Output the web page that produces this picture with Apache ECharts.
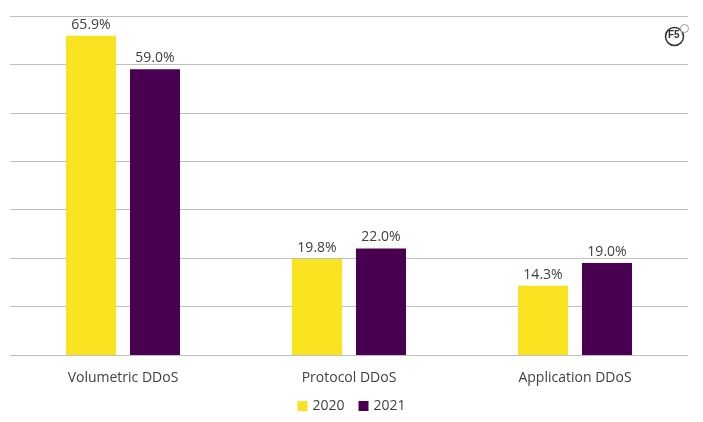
<!DOCTYPE html>
<html style="height: 100%">
<head>
<meta charset="utf-8">
<script src="https://cdn.jsdelivr.net/npm/echarts@6/dist/echarts.min.js"></script>
</head>
<body style="height: 100%; margin: 0; background: #fff">
<div id="container" style="width: 703px; height: 422px"></div>
<script type="text/javascript">
    var categories = ["Volumetric DDoS", "Protocol DDoS", "Application DDoS"];
    var values2020 = [65.9, 19.8, 14.3];
    var values2021 = [59.0, 22.0, 19.0];

    var myChart = echarts.init(document.getElementById("container"));
    var labelStyle = {
        show: true,
        position: "top",
        distance: 4,
        color: "#404040",
        fontSize: 14,
        fontFamily: "Open Sans",
        formatter: function (p) { return p.value.toFixed(1) + "%"; }
    };

    var option = {
        animation: false,
        grid: { left: 10, right: 15, top: 16, bottom: 67 },
        legend: {
            bottom: 4,
            itemWidth: 10,
            itemHeight: 10,
            itemGap: 14,
            icon: "rect",
            textStyle: { color: "#404040", fontSize: 14, fontFamily: "Open Sans" }
        },
        xAxis: {
            type: "category",
            data: categories,
            axisTick: { show: false },
            axisLine: { lineStyle: { color: "#bfbfbf" } },
            axisLabel: { color: "#404040", fontSize: 14, fontFamily: "Open Sans", margin: 16 }
        },
        yAxis: {
            type: "value",
            min: 0,
            max: 70,
            interval: 10,
            axisLabel: { show: false },
            splitLine: { lineStyle: { color: "#bfbfbf" } }
        },
        graphic: [{
            type: "group",
            right: 14,
            top: 24,
            children: [
                { type: "circle", shape: { cx: 10, cy: 10, r: 9 }, style: { fill: "#fff", stroke: "#333", lineWidth: 1.5 } },
                { type: "circle", shape: { cx: 20, cy: 2, r: 4 }, style: { fill: "#fff", stroke: "#999", lineWidth: 1 } },
                { type: "text", x: 3.5, y: 4, style: { text: "F5", fontSize: 10, fontWeight: "bold", fill: "#333" } }
            ]
        }],
        series: [
            {
                name: "2020",
                type: "bar",
                data: values2020,
                barWidth: 50,
                barGap: "28%",
                itemStyle: { color: "#F9E21F" },
                label: labelStyle
            },
            {
                name: "2021",
                type: "bar",
                data: values2021,
                barWidth: 50,
                itemStyle: { color: "#4A0050" },
                label: labelStyle
            }
        ]
    };
    myChart.setOption(option);
</script>
</body>
</html>
